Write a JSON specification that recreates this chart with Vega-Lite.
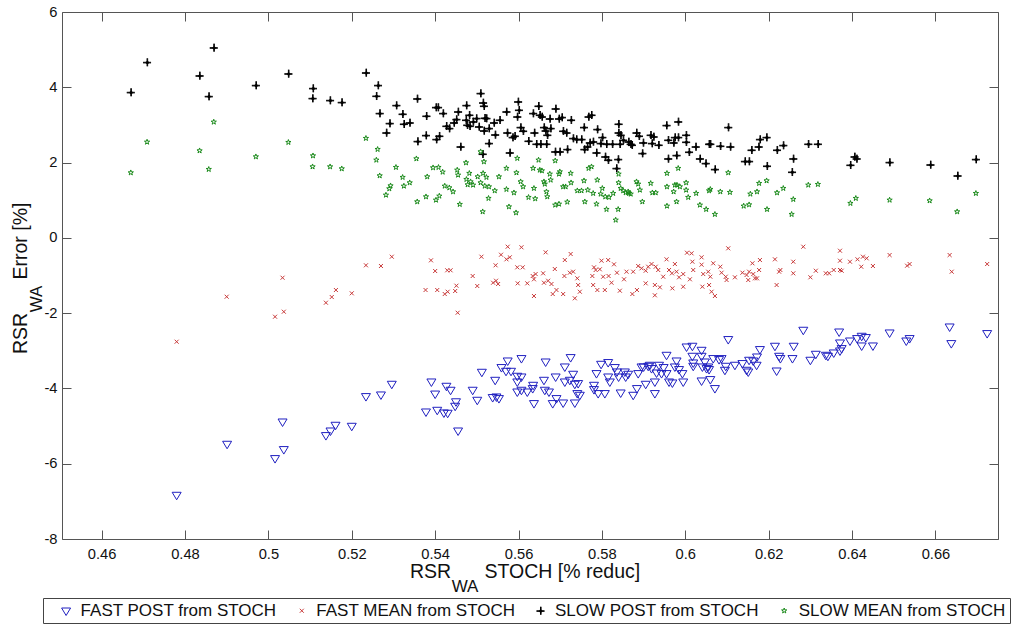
{
  "$schema": "https://vega.github.io/schema/vega-lite/v6.json",
  "autosize": {"type": "none"},
  "width": 936,
  "height": 527,
  "padding": {"left": 62, "top": 12, "right": 16, "bottom": 86},
  "background": "white",
  "config": {
    "font": "Liberation Sans",
    "view": {"stroke": null},
    "axis": {"grid": false, "labelFont": "Liberation Sans", "labelFontSize": 14.7, "labelColor": "#111", "tickColor": "#555", "domainColor": "#555", "tickSize": -9, "titleFont": "Liberation Sans", "titleFontWeight": "normal", "titleColor": "#111"}
  },
  "layer": [
    {
      "data": {"values": [
{"s":"FP","x":0.4780,"y":-6.832},{"s":"FP","x":0.4901,"y":-5.477},{"s":"FP","x":0.5016,"y":-5.857},{"s":"FP","x":0.5037,"y":-5.618},{"s":"FP","x":0.5034,"y":-4.885},{"s":"FP","x":0.5138,"y":-5.246},{"s":"FP","x":0.5149,"y":-5.124},{"s":"FP","x":0.5161,"y":-4.972},{"s":"FP","x":0.5200,"y":-4.999},{"s":"FP","x":0.5234,"y":-4.210},{"s":"FP","x":0.5270,"y":-4.167},{"s":"FP","x":0.5296,"y":-3.883},{"s":"FP","x":0.5391,"y":-3.822},{"s":"FP","x":0.5400,"y":-4.143},{"s":"FP","x":0.5427,"y":-3.936},{"s":"FP","x":0.5437,"y":-4.042},{"s":"FP","x":0.5378,"y":-4.619},{"s":"FP","x":0.5405,"y":-4.574},{"s":"FP","x":0.5421,"y":-4.645},{"s":"FP","x":0.5430,"y":-4.653},{"s":"FP","x":0.5448,"y":-4.467},{"s":"FP","x":0.5450,"y":-4.348},{"s":"FP","x":0.5455,"y":-5.124},{"s":"FP","x":0.5490,"y":-4.042},{"s":"FP","x":0.5501,"y":-4.308},{"s":"FP","x":0.5512,"y":-3.564},{"s":"FP","x":0.5544,"y":-3.777},{"s":"FP","x":0.5559,"y":-3.439},{"s":"FP","x":0.5574,"y":-3.264},{"s":"FP","x":0.5570,"y":-3.538},{"s":"FP","x":0.5582,"y":-3.538},{"s":"FP","x":0.5538,"y":-4.236},{"s":"FP","x":0.5547,"y":-4.220},{"s":"FP","x":0.5553,"y":-4.263},{"s":"FP","x":0.5597,"y":-3.670},{"s":"FP","x":0.5597,"y":-3.822},{"s":"FP","x":0.5597,"y":-4.088},{"s":"FP","x":0.5607,"y":-3.200},{"s":"FP","x":0.5665,"y":-3.291},{"s":"FP","x":0.5725,"y":-3.174},{"s":"FP","x":0.5711,"y":-3.423},{"s":"FP","x":0.5607,"y":-3.689},{"s":"FP","x":0.5607,"y":-4.042},{"s":"FP","x":0.5635,"y":-3.910},{"s":"FP","x":0.5634,"y":-3.997},{"s":"FP","x":0.5621,"y":-4.088},{"s":"FP","x":0.5637,"y":-4.396},{"s":"FP","x":0.5661,"y":-3.777},{"s":"FP","x":0.5663,"y":-4.042},{"s":"FP","x":0.5673,"y":-4.088},{"s":"FP","x":0.5689,"y":-3.689},{"s":"FP","x":0.5691,"y":-4.263},{"s":"FP","x":0.5682,"y":-4.396},{"s":"FP","x":0.5707,"y":-4.380},{"s":"FP","x":0.5711,"y":-3.822},{"s":"FP","x":0.5723,"y":-3.777},{"s":"FP","x":0.5731,"y":-3.617},{"s":"FP","x":0.5735,"y":-3.883},{"s":"FP","x":0.5743,"y":-3.864},{"s":"FP","x":0.5741,"y":-4.130},{"s":"FP","x":0.5747,"y":-4.175},{"s":"FP","x":0.5735,"y":-4.380},{"s":"FP","x":0.5781,"y":-3.910},{"s":"FP","x":0.5781,"y":-4.024},{"s":"FP","x":0.5791,"y":-4.130},{"s":"FP","x":0.5787,"y":-3.599},{"s":"FP","x":0.5798,"y":-3.352},{"s":"FP","x":0.5815,"y":-3.306},{"s":"FP","x":0.5831,"y":-3.439},{"s":"FP","x":0.5815,"y":-3.689},{"s":"FP","x":0.5819,"y":-3.822},{"s":"FP","x":0.5836,"y":-3.556},{"s":"FP","x":0.5840,"y":-3.689},{"s":"FP","x":0.5845,"y":-4.114},{"s":"FP","x":0.5807,"y":-4.130},{"s":"FP","x":0.5855,"y":-3.556},{"s":"FP","x":0.5857,"y":-3.689},{"s":"FP","x":0.5863,"y":-3.617},{"s":"FP","x":0.5875,"y":-4.175},{"s":"FP","x":0.5884,"y":-3.997},{"s":"FP","x":0.5887,"y":-3.599},{"s":"FP","x":0.5895,"y":-3.423},{"s":"FP","x":0.5905,"y":-3.883},{"s":"FP","x":0.5900,"y":-3.423},{"s":"FP","x":0.5911,"y":-3.405},{"s":"FP","x":0.5915,"y":-3.378},{"s":"FP","x":0.5919,"y":-3.466},{"s":"FP","x":0.5927,"y":-4.130},{"s":"FP","x":0.5927,"y":-3.822},{"s":"FP","x":0.5931,"y":-3.583},{"s":"FP","x":0.5937,"y":-3.378},{"s":"FP","x":0.5943,"y":-3.599},{"s":"FP","x":0.5948,"y":-3.439},{"s":"FP","x":0.5955,"y":-3.113},{"s":"FP","x":0.5955,"y":-3.599},{"s":"FP","x":0.5961,"y":-3.822},{"s":"FP","x":0.5969,"y":-3.848},{"s":"FP","x":0.5975,"y":-3.423},{"s":"FP","x":0.5979,"y":-3.264},{"s":"FP","x":0.5985,"y":-3.492},{"s":"FP","x":0.5993,"y":-3.599},{"s":"FP","x":0.5995,"y":-3.822},{"s":"FP","x":0.6003,"y":-2.892},{"s":"FP","x":0.6017,"y":-2.873},{"s":"FP","x":0.6017,"y":-3.139},{"s":"FP","x":0.6019,"y":-3.317},{"s":"FP","x":0.6019,"y":-3.405},{"s":"FP","x":0.6039,"y":-2.980},{"s":"FP","x":0.6039,"y":-3.139},{"s":"FP","x":0.6039,"y":-3.795},{"s":"FP","x":0.6041,"y":-3.423},{"s":"FP","x":0.6047,"y":-3.291},{"s":"FP","x":0.6055,"y":-3.423},{"s":"FP","x":0.6057,"y":-3.492},{"s":"FP","x":0.6060,"y":-3.758},{"s":"FP","x":0.6071,"y":-3.997},{"s":"FP","x":0.6067,"y":-3.200},{"s":"FP","x":0.6081,"y":-3.227},{"s":"FP","x":0.6087,"y":-3.200},{"s":"FP","x":0.6051,"y":-3.466},{"s":"FP","x":0.6095,"y":-3.511},{"s":"FP","x":0.6097,"y":-3.405},{"s":"FP","x":0.6103,"y":-2.695},{"s":"FP","x":0.6119,"y":-3.378},{"s":"FP","x":0.6137,"y":-3.333},{"s":"FP","x":0.6147,"y":-3.511},{"s":"FP","x":0.6153,"y":-3.245},{"s":"FP","x":0.6151,"y":-3.556},{"s":"FP","x":0.6163,"y":-3.264},{"s":"FP","x":0.6171,"y":-3.378},{"s":"FP","x":0.6172,"y":-3.158},{"s":"FP","x":0.6179,"y":-2.961},{"s":"FP","x":0.6215,"y":-2.873},{"s":"FP","x":0.6219,"y":-3.530},{"s":"FP","x":0.6225,"y":-3.139},{"s":"FP","x":0.6228,"y":-3.200},{"s":"FP","x":0.6260,"y":-2.873},{"s":"FP","x":0.6257,"y":-3.200},{"s":"FP","x":0.6283,"y":-2.448},{"s":"FP","x":0.6300,"y":-3.245},{"s":"FP","x":0.6313,"y":-3.086},{"s":"FP","x":0.6337,"y":-3.113},{"s":"FP","x":0.6342,"y":-3.139},{"s":"FP","x":0.6356,"y":-3.051},{"s":"FP","x":0.6371,"y":-2.998},{"s":"FP","x":0.6375,"y":-2.935},{"s":"FP","x":0.6371,"y":-2.786},{"s":"FP","x":0.6369,"y":-2.494},{"s":"FP","x":0.6395,"y":-2.733},{"s":"FP","x":0.6412,"y":-2.669},{"s":"FP","x":0.6423,"y":-2.608},{"s":"FP","x":0.6433,"y":-2.642},{"s":"FP","x":0.6423,"y":-2.865},{"s":"FP","x":0.6450,"y":-2.865},{"s":"FP","x":0.6490,"y":-2.520},{"s":"FP","x":0.6530,"y":-2.733},{"s":"FP","x":0.6538,"y":-2.669},{"s":"FP","x":0.6634,"y":-2.361},{"s":"FP","x":0.6638,"y":-2.802},{"s":"FP","x":0.6724,"y":-2.536},
{"s":"FM","x":0.4780,"y":-2.759},{"s":"FM","x":0.4900,"y":-1.564},{"s":"FM","x":0.5034,"y":-1.059},{"s":"FM","x":0.5016,"y":-2.095},{"s":"FM","x":0.5037,"y":-1.962},{"s":"FM","x":0.5138,"y":-1.723},{"s":"FM","x":0.5152,"y":-1.572},{"s":"FM","x":0.5162,"y":-1.386},{"s":"FM","x":0.5200,"y":-1.473},{"s":"FM","x":0.5234,"y":-0.729},{"s":"FM","x":0.5270,"y":-0.748},{"s":"FM","x":0.5296,"y":-0.501},{"s":"FM","x":0.5390,"y":-0.597},{"s":"FM","x":0.5400,"y":-0.881},{"s":"FM","x":0.5429,"y":-0.862},{"s":"FM","x":0.5437,"y":-0.862},{"s":"FM","x":0.5377,"y":-1.386},{"s":"FM","x":0.5405,"y":-1.386},{"s":"FM","x":0.5423,"y":-1.492},{"s":"FM","x":0.5430,"y":-1.431},{"s":"FM","x":0.5448,"y":-1.412},{"s":"FM","x":0.5451,"y":-1.271},{"s":"FM","x":0.5454,"y":-1.989},{"s":"FM","x":0.5490,"y":-1.014},{"s":"FM","x":0.5501,"y":-1.279},{"s":"FM","x":0.5511,"y":-0.501},{"s":"FM","x":0.5545,"y":-0.729},{"s":"FM","x":0.5558,"y":-0.448},{"s":"FM","x":0.5571,"y":-0.570},{"s":"FM","x":0.5579,"y":-0.517},{"s":"FM","x":0.5574,"y":-0.235},{"s":"FM","x":0.5539,"y":-1.192},{"s":"FM","x":0.5546,"y":-1.139},{"s":"FM","x":0.5551,"y":-1.226},{"s":"FM","x":0.5597,"y":-0.783},{"s":"FM","x":0.5598,"y":-1.208},{"s":"FM","x":0.5607,"y":-0.251},{"s":"FM","x":0.5665,"y":-0.384},{"s":"FM","x":0.5725,"y":-0.429},{"s":"FM","x":0.5711,"y":-0.589},{"s":"FM","x":0.5610,"y":-0.783},{"s":"FM","x":0.5687,"y":-0.828},{"s":"FM","x":0.5659,"y":-0.942},{"s":"FM","x":0.5634,"y":-1.014},{"s":"FM","x":0.5641,"y":-0.961},{"s":"FM","x":0.5621,"y":-1.208},{"s":"FM","x":0.5637,"y":-1.101},{"s":"FM","x":0.5661,"y":-1.192},{"s":"FM","x":0.5671,"y":-1.139},{"s":"FM","x":0.5679,"y":-1.226},{"s":"FM","x":0.5691,"y":-1.386},{"s":"FM","x":0.5682,"y":-1.492},{"s":"FM","x":0.5707,"y":-1.492},{"s":"FM","x":0.5637,"y":-1.545},{"s":"FM","x":0.5723,"y":-0.926},{"s":"FM","x":0.5731,"y":-0.899},{"s":"FM","x":0.5741,"y":-1.075},{"s":"FM","x":0.5743,"y":-1.253},{"s":"FM","x":0.5747,"y":-1.431},{"s":"FM","x":0.5735,"y":-1.606},{"s":"FM","x":0.5710,"y":-1.014},{"s":"FM","x":0.5799,"y":-0.607},{"s":"FM","x":0.5815,"y":-0.589},{"s":"FM","x":0.5829,"y":-0.703},{"s":"FM","x":0.5781,"y":-0.783},{"s":"FM","x":0.5785,"y":-0.854},{"s":"FM","x":0.5795,"y":-0.836},{"s":"FM","x":0.5777,"y":-1.014},{"s":"FM","x":0.5816,"y":-1.014},{"s":"FM","x":0.5836,"y":-0.926},{"s":"FM","x":0.5803,"y":-1.032},{"s":"FM","x":0.5823,"y":-1.192},{"s":"FM","x":0.5779,"y":-1.253},{"s":"FM","x":0.5789,"y":-1.386},{"s":"FM","x":0.5807,"y":-1.386},{"s":"FM","x":0.5843,"y":-1.404},{"s":"FM","x":0.5853,"y":-1.101},{"s":"FM","x":0.5859,"y":-0.899},{"s":"FM","x":0.5875,"y":-0.899},{"s":"FM","x":0.5887,"y":-0.748},{"s":"FM","x":0.5895,"y":-0.809},{"s":"FM","x":0.5905,"y":-0.873},{"s":"FM","x":0.5911,"y":-0.767},{"s":"FM","x":0.5919,"y":-0.695},{"s":"FM","x":0.5929,"y":-0.767},{"s":"FM","x":0.5935,"y":-0.854},{"s":"FM","x":0.5873,"y":-1.492},{"s":"FM","x":0.5884,"y":-1.386},{"s":"FM","x":0.5905,"y":-1.208},{"s":"FM","x":0.5927,"y":-1.253},{"s":"FM","x":0.5927,"y":-1.526},{"s":"FM","x":0.5939,"y":-1.314},{"s":"FM","x":0.5947,"y":-1.032},{"s":"FM","x":0.5955,"y":-0.570},{"s":"FM","x":0.5961,"y":-0.854},{"s":"FM","x":0.5968,"y":-0.942},{"s":"FM","x":0.5969,"y":-1.341},{"s":"FM","x":0.5975,"y":-0.695},{"s":"FM","x":0.5979,"y":-0.899},{"s":"FM","x":0.5985,"y":-1.048},{"s":"FM","x":0.5995,"y":-0.961},{"s":"FM","x":0.5995,"y":-1.298},{"s":"FM","x":0.6004,"y":-0.395},{"s":"FM","x":0.6015,"y":-0.411},{"s":"FM","x":0.6017,"y":-0.634},{"s":"FM","x":0.6019,"y":-0.854},{"s":"FM","x":0.6011,"y":-1.101},{"s":"FM","x":0.6039,"y":-0.517},{"s":"FM","x":0.6039,"y":-0.713},{"s":"FM","x":0.6043,"y":-0.961},{"s":"FM","x":0.6055,"y":-0.899},{"s":"FM","x":0.6060,"y":-1.032},{"s":"FM","x":0.6067,"y":-0.676},{"s":"FM","x":0.6057,"y":-1.253},{"s":"FM","x":0.6063,"y":-1.431},{"s":"FM","x":0.6071,"y":-1.545},{"s":"FM","x":0.6041,"y":-1.298},{"s":"FM","x":0.6084,"y":-0.767},{"s":"FM","x":0.6087,"y":-0.926},{"s":"FM","x":0.6097,"y":-1.032},{"s":"FM","x":0.6103,"y":-0.278},{"s":"FM","x":0.6099,"y":-1.120},{"s":"FM","x":0.6119,"y":-1.048},{"s":"FM","x":0.6137,"y":-0.926},{"s":"FM","x":0.6147,"y":-0.987},{"s":"FM","x":0.6153,"y":-0.899},{"s":"FM","x":0.6151,"y":-1.120},{"s":"FM","x":0.6163,"y":-0.961},{"s":"FM","x":0.6167,"y":-1.075},{"s":"FM","x":0.6172,"y":-1.075},{"s":"FM","x":0.6179,"y":-0.589},{"s":"FM","x":0.6177,"y":-0.854},{"s":"FM","x":0.6161,"y":-0.676},{"s":"FM","x":0.6215,"y":-0.570},{"s":"FM","x":0.6219,"y":-1.253},{"s":"FM","x":0.6225,"y":-0.899},{"s":"FM","x":0.6228,"y":-0.854},{"s":"FM","x":0.6259,"y":-0.634},{"s":"FM","x":0.6259,"y":-0.942},{"s":"FM","x":0.6283,"y":-0.235},{"s":"FM","x":0.6300,"y":-1.048},{"s":"FM","x":0.6313,"y":-0.873},{"s":"FM","x":0.6337,"y":-0.942},{"s":"FM","x":0.6345,"y":-0.942},{"s":"FM","x":0.6356,"y":-0.854},{"s":"FM","x":0.6371,"y":-0.854},{"s":"FM","x":0.6375,"y":-0.873},{"s":"FM","x":0.6371,"y":-0.342},{"s":"FM","x":0.6371,"y":-0.607},{"s":"FM","x":0.6395,"y":-0.634},{"s":"FM","x":0.6413,"y":-0.570},{"s":"FM","x":0.6426,"y":-0.501},{"s":"FM","x":0.6435,"y":-0.544},{"s":"FM","x":0.6422,"y":-0.767},{"s":"FM","x":0.6450,"y":-0.748},{"s":"FM","x":0.6490,"y":-0.456},{"s":"FM","x":0.6532,"y":-0.740},{"s":"FM","x":0.6538,"y":-0.695},{"s":"FM","x":0.6634,"y":-0.456},{"s":"FM","x":0.6639,"y":-0.899},{"s":"FM","x":0.6724,"y":-0.695},
{"s":"SP","x":0.4670,"y":3.867},{"s":"SP","x":0.4709,"y":4.664},{"s":"SP","x":0.4835,"y":4.308},{"s":"SP","x":0.4869,"y":5.052},{"s":"SP","x":0.4857,"y":3.760},{"s":"SP","x":0.4970,"y":4.053},{"s":"SP","x":0.5048,"y":4.361},{"s":"SP","x":0.5107,"y":3.973},{"s":"SP","x":0.5106,"y":3.707},{"s":"SP","x":0.5148,"y":3.654},{"s":"SP","x":0.5176,"y":3.601},{"s":"SP","x":0.5234,"y":4.387},{"s":"SP","x":0.5263,"y":4.053},{"s":"SP","x":0.5259,"y":3.768},{"s":"SP","x":0.5267,"y":3.309},{"s":"SP","x":0.5307,"y":3.521},{"s":"SP","x":0.5291,"y":3.043},{"s":"SP","x":0.5283,"y":2.793},{"s":"SP","x":0.5322,"y":3.290},{"s":"SP","x":0.5325,"y":3.025},{"s":"SP","x":0.5339,"y":3.059},{"s":"SP","x":0.5357,"y":3.697},{"s":"SP","x":0.5358,"y":2.565},{"s":"SP","x":0.5379,"y":3.237},{"s":"SP","x":0.5378,"y":2.724},{"s":"SP","x":0.5402,"y":3.468},{"s":"SP","x":0.5407,"y":3.468},{"s":"SP","x":0.5419,"y":3.309},{"s":"SP","x":0.5403,"y":2.618},{"s":"SP","x":0.5410,"y":2.706},{"s":"SP","x":0.5427,"y":2.971},{"s":"SP","x":0.5434,"y":2.910},{"s":"SP","x":0.5445,"y":3.059},{"s":"SP","x":0.5455,"y":3.351},{"s":"SP","x":0.5451,"y":3.149},{"s":"SP","x":0.5461,"y":2.421},{"s":"SP","x":0.5475,"y":3.521},{"s":"SP","x":0.5474,"y":3.131},{"s":"SP","x":0.5482,"y":3.264},{"s":"SP","x":0.5477,"y":2.998},{"s":"SP","x":0.5483,"y":2.971},{"s":"SP","x":0.5491,"y":3.086},{"s":"SP","x":0.5499,"y":3.176},{"s":"SP","x":0.5509,"y":3.840},{"s":"SP","x":0.5515,"y":3.590},{"s":"SP","x":0.5517,"y":3.503},{"s":"SP","x":0.5505,"y":2.953},{"s":"SP","x":0.5519,"y":3.184},{"s":"SP","x":0.5523,"y":3.176},{"s":"SP","x":0.5517,"y":2.846},{"s":"SP","x":0.5529,"y":2.910},{"s":"SP","x":0.5529,"y":2.512},{"s":"SP","x":0.5541,"y":3.059},{"s":"SP","x":0.5544,"y":2.740},{"s":"SP","x":0.5555,"y":3.131},{"s":"SP","x":0.5514,"y":2.228},{"s":"SP","x":0.5571,"y":3.351},{"s":"SP","x":0.5573,"y":2.793},{"s":"SP","x":0.5579,"y":2.262},{"s":"SP","x":0.5586,"y":2.671},{"s":"SP","x":0.5591,"y":2.706},{"s":"SP","x":0.5599,"y":3.617},{"s":"SP","x":0.5601,"y":3.396},{"s":"SP","x":0.5597,"y":3.218},{"s":"SP","x":0.5605,"y":2.937},{"s":"SP","x":0.5611,"y":2.839},{"s":"SP","x":0.5624,"y":2.573},{"s":"SP","x":0.5635,"y":3.309},{"s":"SP","x":0.5638,"y":2.793},{"s":"SP","x":0.5648,"y":3.503},{"s":"SP","x":0.5651,"y":3.264},{"s":"SP","x":0.5656,"y":3.218},{"s":"SP","x":0.5643,"y":2.493},{"s":"SP","x":0.5653,"y":2.493},{"s":"SP","x":0.5661,"y":2.937},{"s":"SP","x":0.5665,"y":2.846},{"s":"SP","x":0.5669,"y":2.732},{"s":"SP","x":0.5667,"y":2.493},{"s":"SP","x":0.5675,"y":3.165},{"s":"SP","x":0.5677,"y":2.910},{"s":"SP","x":0.5688,"y":2.289},{"s":"SP","x":0.5699,"y":2.289},{"s":"SP","x":0.5689,"y":3.431},{"s":"SP","x":0.5697,"y":3.165},{"s":"SP","x":0.5704,"y":3.203},{"s":"SP","x":0.5707,"y":2.839},{"s":"SP","x":0.5715,"y":2.793},{"s":"SP","x":0.5717,"y":2.352},{"s":"SP","x":0.5726,"y":3.131},{"s":"SP","x":0.5731,"y":2.645},{"s":"SP","x":0.5739,"y":2.618},{"s":"SP","x":0.5751,"y":2.618},{"s":"SP","x":0.5757,"y":2.937},{"s":"SP","x":0.5758,"y":2.352},{"s":"SP","x":0.5765,"y":2.421},{"s":"SP","x":0.5768,"y":3.218},{"s":"SP","x":0.5775,"y":3.264},{"s":"SP","x":0.5771,"y":2.528},{"s":"SP","x":0.5779,"y":2.554},{"s":"SP","x":0.5787,"y":2.262},{"s":"SP","x":0.5789,"y":2.884},{"s":"SP","x":0.5801,"y":2.671},{"s":"SP","x":0.5797,"y":2.512},{"s":"SP","x":0.5808,"y":2.156},{"s":"SP","x":0.5811,"y":2.493},{"s":"SP","x":0.5815,"y":2.068},{"s":"SP","x":0.5825,"y":2.493},{"s":"SP","x":0.5835,"y":1.848},{"s":"SP","x":0.5839,"y":2.087},{"s":"SP","x":0.5840,"y":3.025},{"s":"SP","x":0.5840,"y":2.793},{"s":"SP","x":0.5845,"y":2.732},{"s":"SP","x":0.5851,"y":2.599},{"s":"SP","x":0.5843,"y":2.493},{"s":"SP","x":0.5864,"y":2.554},{"s":"SP","x":0.5869,"y":2.493},{"s":"SP","x":0.5872,"y":2.467},{"s":"SP","x":0.5883,"y":2.793},{"s":"SP","x":0.5889,"y":2.706},{"s":"SP","x":0.5899,"y":2.528},{"s":"SP","x":0.5897,"y":2.246},{"s":"SP","x":0.5917,"y":2.732},{"s":"SP","x":0.5924,"y":2.687},{"s":"SP","x":0.5920,"y":2.512},{"s":"SP","x":0.5936,"y":2.467},{"s":"SP","x":0.5955,"y":2.990},{"s":"SP","x":0.5959,"y":2.599},{"s":"SP","x":0.5959,"y":2.103},{"s":"SP","x":0.5983,"y":3.086},{"s":"SP","x":0.5975,"y":2.671},{"s":"SP","x":0.5983,"y":2.671},{"s":"SP","x":0.6002,"y":2.732},{"s":"SP","x":0.5972,"y":2.528},{"s":"SP","x":0.6002,"y":2.546},{"s":"SP","x":0.6009,"y":2.281},{"s":"SP","x":0.6025,"y":2.421},{"s":"SP","x":0.5979,"y":2.193},{"s":"SP","x":0.6035,"y":2.103},{"s":"SP","x":0.6049,"y":1.980},{"s":"SP","x":0.6057,"y":2.493},{"s":"SP","x":0.6060,"y":2.493},{"s":"SP","x":0.6084,"y":2.440},{"s":"SP","x":0.6103,"y":2.937},{"s":"SP","x":0.6108,"y":2.421},{"s":"SP","x":0.6071,"y":1.821},{"s":"SP","x":0.6143,"y":2.034},{"s":"SP","x":0.6153,"y":2.034},{"s":"SP","x":0.6159,"y":2.334},{"s":"SP","x":0.6176,"y":2.421},{"s":"SP","x":0.6179,"y":2.618},{"s":"SP","x":0.6195,"y":2.671},{"s":"SP","x":0.6196,"y":1.909},{"s":"SP","x":0.6220,"y":2.334},{"s":"SP","x":0.6235,"y":2.459},{"s":"SP","x":0.6259,"y":2.103},{"s":"SP","x":0.6256,"y":1.749},{"s":"SP","x":0.6295,"y":2.493},{"s":"SP","x":0.6318,"y":2.493},{"s":"SP","x":0.6396,"y":1.935},{"s":"SP","x":0.6406,"y":2.156},{"s":"SP","x":0.6411,"y":2.103},{"s":"SP","x":0.6490,"y":2.007},{"s":"SP","x":0.6588,"y":1.943},{"s":"SP","x":0.6653,"y":1.651},{"s":"SP","x":0.6697,"y":2.087},
{"s":"SM","x":0.4670,"y":1.731},{"s":"SM","x":0.4709,"y":2.546},{"s":"SM","x":0.4835,"y":2.315},{"s":"SM","x":0.4869,"y":3.078},{"s":"SM","x":0.4857,"y":1.821},{"s":"SM","x":0.4970,"y":2.156},{"s":"SM","x":0.5048,"y":2.538},{"s":"SM","x":0.5107,"y":2.182},{"s":"SM","x":0.5106,"y":1.890},{"s":"SM","x":0.5148,"y":1.890},{"s":"SM","x":0.5176,"y":1.837},{"s":"SM","x":0.5234,"y":2.645},{"s":"SM","x":0.5262,"y":2.352},{"s":"SM","x":0.5259,"y":2.068},{"s":"SM","x":0.5267,"y":1.651},{"s":"SM","x":0.5306,"y":1.874},{"s":"SM","x":0.5293,"y":1.385},{"s":"SM","x":0.5290,"y":1.306},{"s":"SM","x":0.5282,"y":1.138},{"s":"SM","x":0.5322,"y":1.609},{"s":"SM","x":0.5325,"y":1.377},{"s":"SM","x":0.5339,"y":1.465},{"s":"SM","x":0.5355,"y":2.103},{"s":"SM","x":0.5357,"y":0.960},{"s":"SM","x":0.5378,"y":1.093},{"s":"SM","x":0.5381,"y":1.624},{"s":"SM","x":0.5395,"y":1.864},{"s":"SM","x":0.5408,"y":1.874},{"s":"SM","x":0.5418,"y":1.749},{"s":"SM","x":0.5402,"y":1.005},{"s":"SM","x":0.5410,"y":1.112},{"s":"SM","x":0.5423,"y":1.377},{"s":"SM","x":0.5434,"y":1.332},{"s":"SM","x":0.5443,"y":1.226},{"s":"SM","x":0.5453,"y":1.802},{"s":"SM","x":0.5455,"y":1.670},{"s":"SM","x":0.5459,"y":0.891},{"s":"SM","x":0.5474,"y":1.996},{"s":"SM","x":0.5482,"y":1.715},{"s":"SM","x":0.5475,"y":1.555},{"s":"SM","x":0.5485,"y":1.492},{"s":"SM","x":0.5491,"y":1.404},{"s":"SM","x":0.5478,"y":1.412},{"s":"SM","x":0.5502,"y":1.624},{"s":"SM","x":0.5509,"y":2.289},{"s":"SM","x":0.5517,"y":2.023},{"s":"SM","x":0.5515,"y":1.715},{"s":"SM","x":0.5523,"y":1.609},{"s":"SM","x":0.5509,"y":1.465},{"s":"SM","x":0.5519,"y":1.377},{"s":"SM","x":0.5529,"y":1.359},{"s":"SM","x":0.5528,"y":1.051},{"s":"SM","x":0.5514,"y":0.695},{"s":"SM","x":0.5543,"y":1.253},{"s":"SM","x":0.5553,"y":1.624},{"s":"SM","x":0.5571,"y":1.848},{"s":"SM","x":0.5571,"y":1.290},{"s":"SM","x":0.5589,"y":1.199},{"s":"SM","x":0.5577,"y":0.827},{"s":"SM","x":0.5594,"y":0.668},{"s":"SM","x":0.5597,"y":2.113},{"s":"SM","x":0.5595,"y":1.731},{"s":"SM","x":0.5605,"y":1.492},{"s":"SM","x":0.5611,"y":1.359},{"s":"SM","x":0.5624,"y":1.077},{"s":"SM","x":0.5635,"y":1.848},{"s":"SM","x":0.5637,"y":1.316},{"s":"SM","x":0.5648,"y":2.068},{"s":"SM","x":0.5651,"y":1.802},{"s":"SM","x":0.5656,"y":1.784},{"s":"SM","x":0.5640,"y":1.040},{"s":"SM","x":0.5661,"y":1.492},{"s":"SM","x":0.5663,"y":1.430},{"s":"SM","x":0.5667,"y":1.226},{"s":"SM","x":0.5669,"y":1.093},{"s":"SM","x":0.5675,"y":1.696},{"s":"SM","x":0.5677,"y":1.537},{"s":"SM","x":0.5688,"y":2.049},{"s":"SM","x":0.5699,"y":1.757},{"s":"SM","x":0.5697,"y":1.696},{"s":"SM","x":0.5688,"y":0.873},{"s":"SM","x":0.5697,"y":0.899},{"s":"SM","x":0.5707,"y":1.359},{"s":"SM","x":0.5713,"y":1.359},{"s":"SM","x":0.5717,"y":0.952},{"s":"SM","x":0.5725,"y":1.715},{"s":"SM","x":0.5726,"y":1.465},{"s":"SM","x":0.5741,"y":1.253},{"s":"SM","x":0.5751,"y":1.253},{"s":"SM","x":0.5757,"y":1.518},{"s":"SM","x":0.5759,"y":0.960},{"s":"SM","x":0.5768,"y":1.848},{"s":"SM","x":0.5775,"y":1.890},{"s":"SM","x":0.5766,"y":1.271},{"s":"SM","x":0.5779,"y":1.183},{"s":"SM","x":0.5787,"y":0.899},{"s":"SM","x":0.5789,"y":1.537},{"s":"SM","x":0.5801,"y":1.316},{"s":"SM","x":0.5797,"y":1.165},{"s":"SM","x":0.5808,"y":1.093},{"s":"SM","x":0.5811,"y":0.758},{"s":"SM","x":0.5817,"y":1.077},{"s":"SM","x":0.5827,"y":1.183},{"s":"SM","x":0.5833,"y":0.474},{"s":"SM","x":0.5839,"y":0.758},{"s":"SM","x":0.5840,"y":1.465},{"s":"SM","x":0.5840,"y":1.696},{"s":"SM","x":0.5845,"y":1.316},{"s":"SM","x":0.5851,"y":1.253},{"s":"SM","x":0.5857,"y":1.199},{"s":"SM","x":0.5863,"y":1.226},{"s":"SM","x":0.5865,"y":1.183},{"s":"SM","x":0.5869,"y":1.165},{"s":"SM","x":0.5883,"y":1.492},{"s":"SM","x":0.5887,"y":1.430},{"s":"SM","x":0.5891,"y":1.271},{"s":"SM","x":0.5897,"y":0.960},{"s":"SM","x":0.5917,"y":1.449},{"s":"SM","x":0.5921,"y":1.199},{"s":"SM","x":0.5929,"y":1.199},{"s":"SM","x":0.5956,"y":1.715},{"s":"SM","x":0.5956,"y":1.359},{"s":"SM","x":0.5956,"y":0.846},{"s":"SM","x":0.5983,"y":1.848},{"s":"SM","x":0.5975,"y":1.404},{"s":"SM","x":0.5980,"y":1.404},{"s":"SM","x":0.5987,"y":1.359},{"s":"SM","x":0.5972,"y":1.226},{"s":"SM","x":0.6002,"y":1.465},{"s":"SM","x":0.6002,"y":1.271},{"s":"SM","x":0.6007,"y":1.077},{"s":"SM","x":0.6026,"y":1.183},{"s":"SM","x":0.5979,"y":0.960},{"s":"SM","x":0.6035,"y":0.873},{"s":"SM","x":0.6050,"y":0.758},{"s":"SM","x":0.6057,"y":1.253},{"s":"SM","x":0.6060,"y":1.290},{"s":"SM","x":0.6084,"y":1.226},{"s":"SM","x":0.6103,"y":1.731},{"s":"SM","x":0.6107,"y":1.210},{"s":"SM","x":0.6071,"y":0.626},{"s":"SM","x":0.6140,"y":0.846},{"s":"SM","x":0.6153,"y":0.881},{"s":"SM","x":0.6156,"y":1.165},{"s":"SM","x":0.6172,"y":1.226},{"s":"SM","x":0.6177,"y":1.449},{"s":"SM","x":0.6195,"y":1.518},{"s":"SM","x":0.6196,"y":0.758},{"s":"SM","x":0.6220,"y":1.199},{"s":"SM","x":0.6235,"y":1.316},{"s":"SM","x":0.6259,"y":1.024},{"s":"SM","x":0.6255,"y":0.626},{"s":"SM","x":0.6295,"y":1.404},{"s":"SM","x":0.6318,"y":1.422},{"s":"SM","x":0.6396,"y":0.918},{"s":"SM","x":0.6409,"y":1.051},{"s":"SM","x":0.6490,"y":1.005},{"s":"SM","x":0.6586,"y":0.987},{"s":"SM","x":0.6652,"y":0.695},{"s":"SM","x":0.6697,"y":1.183}
      ]},
      "mark": {"type": "point", "filled": false, "size": 100, "strokeWidth": 1, "opacity": 1},
      "encoding": {
        "x": {"field": "x", "type": "quantitative",
          "scale": {"domain": [0.4505, 0.675], "nice": false, "zero": false},
          "axis": {"orient": "bottom", "values": [0.46, 0.48, 0.5, 0.52, 0.54, 0.56, 0.58, 0.6, 0.62, 0.64, 0.66], "format": "~g", "labelPadding": 16,
            "title": "RSR", "titleFontSize": 19.5, "titleAlign": "left", "titleBaseline": "alphabetic", "titleX": 347.5, "titleY": 38}},
        "y": {"field": "y", "type": "quantitative",
          "scale": {"domain": [-8, 6], "nice": false, "zero": false},
          "axis": {"orient": "left", "values": [-8, -6, -4, -2, 0, 2, 4, 6], "labelExpr": "replace(datum.label, '\u2212', '-')", "labelPadding": 14,
            "title": "RSR", "titleFontSize": 19.5, "titleAngle": -90, "titleAlign": "left", "titleBaseline": "alphabetic", "titleX": -35.3, "titleY": 341.5}},
        "color": {"field": "s", "type": "nominal",
          "scale": {"domain": ["FP", "FM", "SP", "SM"], "range": ["#2020c0", "#c83a3a", "#000000", "#1a8a1a"]},
          "legend": {"orient": "none", "legendX": -19, "legendY": 586, "direction": "horizontal", "columns": 4, "title": null,
            "labelExpr": "datum.label == 'FP' ? 'FAST POST from STOCH' : datum.label == 'FM' ? 'FAST MEAN from STOCH' : datum.label == 'SP' ? 'SLOW POST from STOCH' : 'SLOW MEAN from STOCH'",
            "padding": 4, "strokeColor": "#444", "fillColor": "#ffffff", "labelFont": "Liberation Sans", "labelFontSize": 17, "labelColor": "#111", "labelLimit": 400,
            "symbolSize": 100, "symbolStrokeWidth": 1, "symbolOffset": 10.6, "labelOffset": 6, "columnPadding": 5.7}},
        "shape": {"field": "s", "type": "nominal",
          "scale": {"domain": ["FP", "FM", "SP", "SM"], "range": [
            "M-0.9,-0.55L0.9,-0.55L0,0.95Z",
            "M-0.4,-0.4L0.4,0.4M-0.4,0.4L0.4,-0.4",
            "M-0.8,0L0.8,0M0,-0.8L0,0.8M-0.8,0.12L0.8,0.12M0.12,-0.8L0.12,0.8M-0.15,-0.1L0.27,-0.1L0.27,0.22L-0.15,0.22Z",
            "M0,-0.55L0.124,-0.17L0.523,-0.17L0.2,0.065L0.323,0.445L0,0.21L-0.323,0.445L-0.2,0.065L-0.523,-0.17L-0.124,-0.17Z"]},
          "legend": {"orient": "none", "legendX": -19, "legendY": 586, "direction": "horizontal", "columns": 4, "title": null,
            "labelExpr": "datum.label == 'FP' ? 'FAST POST from STOCH' : datum.label == 'FM' ? 'FAST MEAN from STOCH' : datum.label == 'SP' ? 'SLOW POST from STOCH' : 'SLOW MEAN from STOCH'",
            "padding": 4, "strokeColor": "#444", "fillColor": "#ffffff", "labelFont": "Liberation Sans", "labelFontSize": 17, "labelColor": "#111", "labelLimit": 400,
            "symbolSize": 100, "symbolStrokeWidth": 1, "symbolOffset": 10.6, "labelOffset": 6, "columnPadding": 5.7}}
      }
    },
    {
      "data": {"values": [{"x": 0.5, "y": 0}]},
      "mark": {"type": "point", "opacity": 0, "size": 0},
      "encoding": {
        "x": {"field": "x", "type": "quantitative",
          "scale": {"domain": [0.4505, 0.675], "nice": false, "zero": false},
          "axis": {"orient": "top", "values": [0.46, 0.48, 0.5, 0.52, 0.54, 0.56, 0.58, 0.6, 0.62, 0.64, 0.66], "labels": false,
            "title": "WA", "titleFontSize": 17, "titleAngle": 0, "titleAlign": "left", "titleBaseline": "alphabetic", "titleX": 389.2, "titleY": 579.7}},
        "y": {"field": "y", "type": "quantitative",
          "scale": {"domain": [-8, 6], "nice": false, "zero": false},
          "axis": {"orient": "right", "values": [-8, -6, -4, -2, 0, 2, 4, 6], "labels": false,
            "title": "WA", "titleFontSize": 17, "titleAngle": -90, "titleAlign": "left", "titleBaseline": "alphabetic", "titleX": -956.3, "titleY": 299.8}}
      }
    },
    {
      "data": {"values": [{"x": 0.5, "y": 0}]},
      "mark": {"type": "point", "opacity": 0, "size": 0},
      "encoding": {
        "x": {"field": "x", "type": "quantitative",
          "scale": {"domain": [0.4505, 0.675], "nice": false, "zero": false},
          "axis": {"orient": "bottom", "labels": false, "ticks": false, "domain": false,
            "title": "STOCH [% reduc]", "titleFontSize": 19.5, "titleAngle": 0, "titleAlign": "left", "titleBaseline": "alphabetic", "titleX": 422, "titleY": 38}},
        "y": {"field": "y", "type": "quantitative",
          "scale": {"domain": [-8, 6], "nice": false, "zero": false},
          "axis": {"orient": "left", "labels": false, "ticks": false, "domain": false,
            "title": "Error [%]", "titleFontSize": 19.5, "titleAngle": -90, "titleAlign": "left", "titleBaseline": "alphabetic", "titleX": -35.3, "titleY": 267}}
      }
    }
  ],
  "resolve": {"axis": {"x": "independent", "y": "independent"}}
}
